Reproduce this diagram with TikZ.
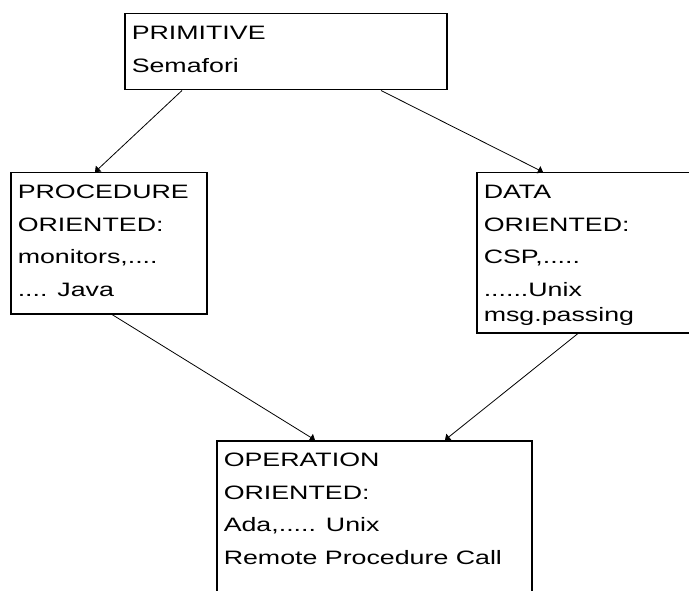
\documentclass[tikz,border=0pt]{standalone}
\usepackage{fontspec}
\setmainfont{Liberation Sans}[FakeStretch=1.38]
\usetikzlibrary{arrows.meta}

% text of a block: fixed width and height, first baseline 26pt down
\newcommand{\blocktext}[3]{\parbox[t][#2][t]{#1}{\raggedright\rule{0pt}{26pt}#3}}

\begin{document}
\begin{tikzpicture}[x=1pt, y=-1pt,
    block/.style ={draw, line width=1.5pt, anchor=north west,
      inner xsep=7pt, inner ysep=0pt, font=\fontsize{19.4}{32.5}\selectfont},
    link/.style ={line width=0.8pt, -{Triangle[width=8pt,length=5pt]}}]
   \useasboundingbox (0,0) rectangle (689,591);
   \clip (0,0) rectangle (689,591);

   \node[block] (A)  at (124,13)  {\blocktext{308pt}{76pt}{PRIMITIVE\\Semafori}};
   \node[block] (B)  at (10,172)  {\blocktext{182pt}{141pt}{PROCEDURE\\ORIENTED:\\monitors,....\\.... Java}};
   \node[block] (C)  at (476,172) {\blocktext{205pt}{160pt}{DATA\\ORIENTED:\\CSP,.....\\......Unix\\[-7pt]msg.passing}};
   \node[block] (D)  at (216,440) {\blocktext{301pt}{170pt}{OPERATION\\ORIENTED:\\Ada,..... Unix\\Remote Procedure Call}};

   \draw[link] ([xshift=58pt]A.south west) to ([xshift=85pt]B.north west);
   \draw[link] ([xshift=257pt]A.south west) to ([xshift=67pt]C.north west);
   \draw[link] ([xshift=102pt]B.south west) to ([xshift=99pt]D.north west);
   \draw[link] ([xshift=102pt]C.south west) to ([xshift=229pt]D.north west);
 \end{tikzpicture}
\end{document}
